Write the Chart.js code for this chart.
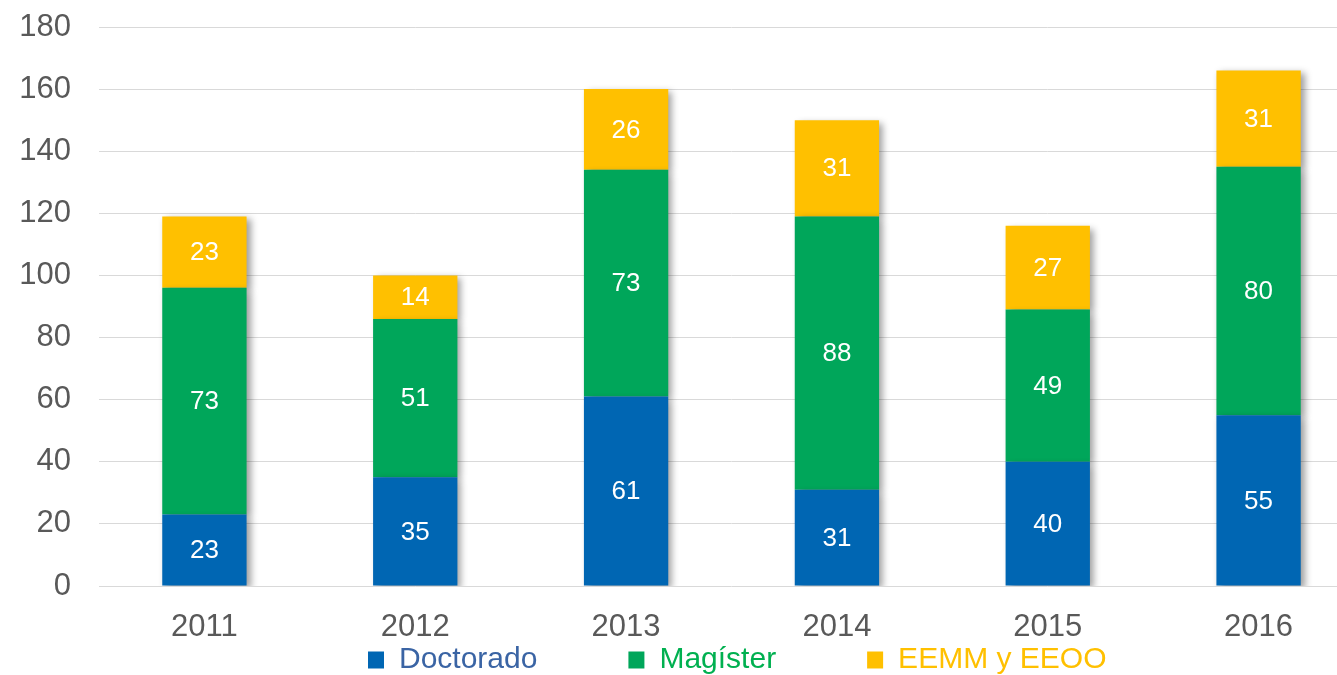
<!DOCTYPE html>
<html>
<head>
<meta charset="utf-8">
<script src="https://cdn.jsdelivr.net/npm/chart.js@4/dist/chart.umd.min.js"></script>
<style>
  html, body { margin: 0; padding: 0; background: #ffffff; overflow: hidden; }
  #wrap { position: absolute; left: 0; top: 0; width: 1364px; height: 675px; }
</style>
</head>
<body>
<div id="wrap"><canvas id="c" width="1364" height="675"></canvas></div>
<script>
const categories = ['2011', '2012', '2013', '2014', '2015', '2016'];
const seriesNames = ['Doctorado', 'Magíster', 'EEMM y EEOO'];
const doctorado = [23, 35, 61, 31, 40, 55];
const magister = [73, 51, 73, 88, 49, 80];
const eemm = [23, 14, 26, 31, 27, 31];
const yTicks = [0, 20, 40, 60, 80, 100, 120, 140, 160, 180];

const barColors = ['#0066b3', '#00a65a', '#ffc000'];
const legendTextColors = ['#3a64a4', '#00b050', '#ffc000'];

Chart.defaults.font.family = '"Liberation Sans", Arial, sans-serif';

const shadowPlugin = {
  id: 'barShadow',
  beforeDatasetDraw(chart) {
    const ctx = chart.ctx;
    ctx.save();
    ctx.shadowColor = 'rgba(0,0,0,0.38)';
    ctx.shadowBlur = 7;
    ctx.shadowOffsetX = 4;
    ctx.shadowOffsetY = 3;
  },
  afterDatasetDraw(chart) {
    chart.ctx.restore();
  }
};

const valueLabels = {
  id: 'valueLabels',
  afterDatasetsDraw(chart) {
    const ctx = chart.ctx;
    ctx.save();
    ctx.font = '26px "Liberation Sans", Arial, sans-serif';
    ctx.fillStyle = '#ffffff';
    ctx.textAlign = 'center';
    ctx.textBaseline = 'middle';
    chart.data.datasets.forEach((ds, i) => {
      const meta = chart.getDatasetMeta(i);
      meta.data.forEach((bar, j) => {
        const p = bar.getCenterPoint();
        ctx.fillText(String(ds.data[j]), p.x, p.y + 1);
      });
    });
    ctx.restore();
  }
};

const LEGEND_PAD = 91;
const legendPlace = {
  id: 'legendPlace',
  beforeLayout(chart) {
    const lg = chart.legend;
    if (lg && !lg._patchedFit) {
      const orig = lg.fit.bind(lg);
      lg.fit = function () { orig(); this.height = 39; };
      lg._patchedFit = true;
    }
  },
  afterLayout(chart) {
    const lg = chart.legend;
    if (!lg) return;
    lg.left = 368 - LEGEND_PAD;
    lg.right = 5000;
    lg.top = 645 - LEGEND_PAD;
  }
};

new Chart(document.getElementById('c'), {
  type: 'bar',
  data: {
    labels: categories,
    datasets: [
      { label: seriesNames[0], data: doctorado, backgroundColor: barColors[0], borderWidth: 0 },
      { label: seriesNames[1], data: magister, backgroundColor: barColors[1], borderWidth: 0 },
      { label: seriesNames[2], data: eemm, backgroundColor: barColors[2], borderWidth: 0 }
    ]
  },
  options: {
    responsive: false,
    animation: false,
    devicePixelRatio: 1,
    layout: { padding: { top: 0, left: 0, right: 0, bottom: 0 } },
    datasets: { bar: { barPercentage: 0.4, categoryPercentage: 1.0 } },
    scales: {
      x: {
        stacked: true,
        grid: { display: false, drawTicks: false },
        border: { display: false },
        ticks: { color: '#595959', font: { size: 31 }, padding: 23 },
        afterFit(s) { s.height = 50; }
      },
      y: {
        stacked: true,
        min: 0,
        max: 180,
        afterBuildTicks(s) { s.ticks = yTicks.map(v => ({ value: v })); },
        grid: { color: '#d9d9d9', lineWidth: 1, drawTicks: false },
        border: { display: false },
        ticks: { color: '#595959', font: { size: 31 }, padding: 28 },
        afterFit(s) { s.width = 99; s.paddingTop = 27; s.paddingBottom = 0; }
      }
    },
    plugins: {
      tooltip: { enabled: false },
      legend: {
        display: true,
        position: 'bottom',
        align: 'start',
        labels: {
          boxWidth: 16,
          boxHeight: 17,
          padding: LEGEND_PAD,
          font: { size: 30 },
          generateLabels(chart) {
            const items = Chart.defaults.plugins.legend.labels.generateLabels(chart);
            items.forEach((it, i) => {
              it.fontColor = legendTextColors[i];
              it.lineWidth = 0;
              it.strokeStyle = 'rgba(0,0,0,0)';
            });
            return items;
          }
        }
      }
    }
  },
  plugins: [shadowPlugin, valueLabels, legendPlace]
});
</script>
</body>
</html>
